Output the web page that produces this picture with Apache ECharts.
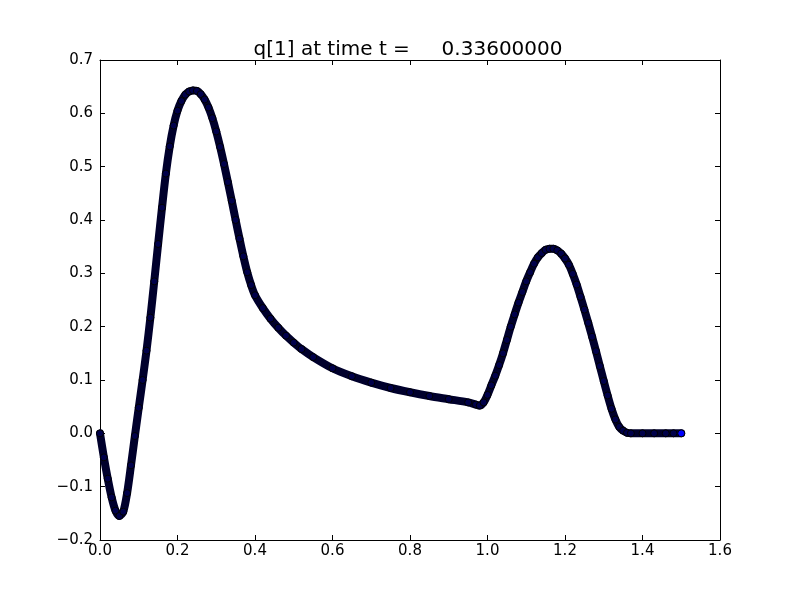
<!DOCTYPE html>
<html>
<head>
<meta charset="utf-8">
<script src="https://cdn.jsdelivr.net/npm/echarts@6/dist/echarts.min.js"></script>
<style>html,body{margin:0;padding:0;background:#fff}#c{width:800px;height:600px}</style>
</head>
<body>
<div id="c"></div>
<script>
const titleText = 'q[1] at time t =     0.33600000';
const xTicks = [0.0, 0.2, 0.4, 0.6, 0.8, 1.0, 1.2, 1.4, 1.6];
const yTicks = [-0.2, -0.1, 0.0, 0.1, 0.2, 0.3, 0.4, 0.5, 0.6, 0.7];
const xValues = [
  0.00,0.01,0.02,0.03,0.04,0.05,0.06,0.07,0.08,0.09,
  0.10,0.11,0.12,0.13,0.14,0.15,0.16,0.17,0.18,0.19,
  0.20,0.21,0.22,0.23,0.24,0.25,0.26,0.27,0.28,0.29,
  0.30,0.31,0.32,0.33,0.34,0.35,0.36,0.37,0.38,0.39,
  0.40,0.42,0.44,0.46,0.48,0.50,0.52,0.55,0.60,0.65,
  0.70,0.75,0.80,0.85,0.90,0.95,0.97,0.98,0.99,1.00,
  1.01,1.02,1.03,1.04,1.05,1.06,1.07,1.08,1.09,1.10,
  1.11,1.12,1.13,1.14,1.15,1.16,1.17,1.18,1.19,1.20,
  1.21,1.22,1.23,1.24,1.25,1.26,1.27,1.28,1.29,1.30,
  1.31,1.32,1.33,1.34,1.35,1.36,1.37,1.40,1.43,1.46,
  1.48,1.50
];
const qValues = [
  0.000,-0.045,-0.085,-0.120,-0.145,-0.155,-0.147,-0.112,-0.060,-0.005,
  0.048,0.100,0.155,0.217,0.285,0.355,0.423,0.487,0.538,0.577,
  0.605,0.623,0.635,0.641,0.643,0.642,0.636,0.626,0.611,0.591,
  0.566,0.537,0.505,0.471,0.436,0.400,0.365,0.332,0.302,0.278,
  0.259,0.235,0.215,0.198,0.183,0.170,0.158,0.143,0.122,0.107,
  0.095,0.085,0.077,0.070,0.064,0.058,0.054,0.052,0.058,0.072,
  0.090,0.108,0.128,0.150,0.175,0.200,0.223,0.245,0.265,0.285,
  0.302,0.318,0.330,0.338,0.344,0.346,0.346,0.343,0.337,0.328,
  0.316,0.299,0.279,0.256,0.232,0.207,0.181,0.154,0.126,0.098,
  0.071,0.046,0.026,0.012,0.005,0.001,0.000,0.000,0.000,0.000,
  0.000,0.000
];

const pts = xValues.map((x, i) => [x, qValues[i]]);
const last = pts.length - 1;
const font = 'DejaVu Sans';
const fmt = v => { const s = (+v).toFixed(1); return s.charAt(0) === '-' ? '\u2212' + s.slice(1) : s; };

function axisBase() {
  return {
    axisLine: { show: true, onZero: false, lineStyle: { color: '#000', width: 1 } },
    axisTick: { show: true, inside: true, length: 5, lineStyle: { color: '#000', width: 1 } },
    splitLine: { show: false }
  };
}

const chart = echarts.init(document.getElementById('c'), null, { renderer: 'canvas' });
chart.setOption({
  animation: false,
  backgroundColor: '#fff',
  title: {
    text: titleText, left: 403, top: 35, textAlign: 'center',
    textStyle: { fontFamily: font, fontSize: 20, fontWeight: 'normal', color: '#000' }
  },
  grid: { left: 100, right: 80, top: 60, bottom: 60, containLabel: false },
  xAxis: [
    Object.assign(axisBase(), {
      type: 'value', position: 'bottom', min: xTicks[0], max: xTicks[xTicks.length - 1], interval: 0.2,
      axisLabel: { margin: 4, fontFamily: font, fontSize: 15, color: '#000', formatter: fmt }
    }),
    Object.assign(axisBase(), {
      type: 'value', position: 'top', min: xTicks[0], max: xTicks[xTicks.length - 1], interval: 0.2,
      axisLabel: { show: false }
    })
  ],
  yAxis: [
    Object.assign(axisBase(), {
      type: 'value', position: 'left', min: yTicks[0], max: yTicks[yTicks.length - 1], interval: 0.1,
      axisLabel: { margin: 7, fontFamily: font, fontSize: 15, color: '#000', formatter: fmt }
    }),
    Object.assign(axisBase(), {
      type: 'value', position: 'right', min: yTicks[0], max: yTicks[yTicks.length - 1], interval: 0.1,
      axisLabel: { show: false }
    })
  ],
  series: [
    {
      type: 'line', xAxisIndex: 0, yAxisIndex: 0, data: pts, showSymbol: false, smooth: 0.3,
      lineStyle: { color: '#00002c', width: 8, cap: 'round', join: 'round' }, z: 2
    },
    {
      type: 'scatter', xAxisIndex: 0, yAxisIndex: 0, symbol: 'circle', symbolSize: 7,
      data: pts.map((p, i) => i === last ? { value: p, itemStyle: { color: '#0000ff' } } : p),
      itemStyle: { color: '#00004a', borderColor: '#000', borderWidth: 1, opacity: 1 }, z: 3
    }
  ]
});
</script>
</body>
</html>
